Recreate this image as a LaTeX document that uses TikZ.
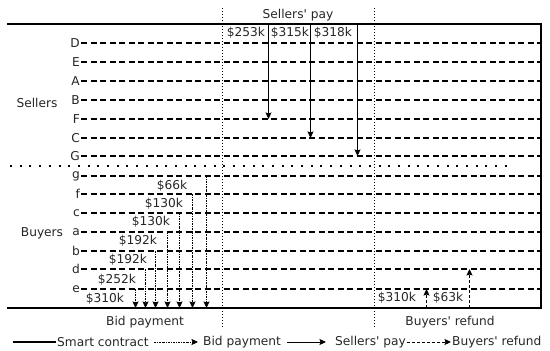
\documentclass[tikz,border=0pt]{standalone}
\usepackage{fontspec}
\setmainfont{DejaVu Sans}[Ligatures=TeXOff]
\usetikzlibrary{arrows.meta}
\begin{document}
\begin{tikzpicture}[x=1pt,y=-1pt,
  every node/.style={font=\fontsize{12.2}{14}\selectfont, text=black!85, inner sep=1pt},
  frame/.style={line width=2pt},
  rowlab/.style={anchor=east, inner sep=1pt},
  rowline/.style={line width=2pt, dash pattern=on 6pt off 3.5pt},
  vsep/.style={line width=1pt, dash pattern=on 1pt off 2pt},
  hsep/.style={draw=black, line width=2pt, dash pattern=on 2pt off 7.7pt},
  tip/.style={-{Stealth[length=6.5pt,width=6pt,inset=1pt]}},
  sellarrow/.style={tip, line width=1pt},
  bidarrow/.style={tip, line width=0.8pt, dash pattern=on 2pt off 1pt on 0.8pt off 1pt},
  refarrow/.style={tip, line width=1pt, dash pattern=on 3pt off 2pt},
  amt/.style={inner sep=0.5pt}]
\useasboundingbox (0,0) rectangle (550,351);

% frame
\coordinate (tl) at (7,24);
\coordinate (tr) at (541,24);
\coordinate (br) at (541,308);
\coordinate (bl) at (7,308);
\draw[frame] (tl) -- (tr) -- (br) -- (bl);

% dotted separators
\coordinate (v1t) at (222.5,8);  \coordinate (v1b) at (222.5,327);
\coordinate (v2t) at (374.5,8);  \coordinate (v2b) at (374.5,327);
\draw[vsep] (v1t) -- (v1b);
\draw[vsep] (v2t) -- (v2b);

% group labels
\node (sellers) at (37,103) {Sellers};
\node (buyers) at (42,233) {Buyers};

% seller rows
\node[rowlab] (rD) at (81,43) {D};
\node[rowlab] (rE) at (81,62) {E};
\node[rowlab] (rA) at (81,81) {A};
\node[rowlab] (rB) at (81,100) {B};
\node[rowlab] (rF) at (81,119) {F};
\node[rowlab] (rC) at (81,138) {C};
\node[rowlab] (rG) at (81,156) {G};
% buyer rows
\node[rowlab] (rg) at (81,176) {g};
\node[rowlab] (rf) at (81,194) {f};
\node[rowlab] (rc) at (81,213) {c};
\node[rowlab] (ra) at (81,232) {a};
\node[rowlab] (rb) at (81,251) {b};
\node[rowlab] (rd) at (81,269) {d};
\node[rowlab] (re) at (81,289) {e};

\foreach \r in {rD,rE,rA,rB,rF,rC,rG,rg,rf,rc,ra,rb,rd,re}
  \draw[rowline] (\r.east) -- (\r.east -| tr);

% sellers' pay
\node (spay) at (298,15) {Sellers' pay};
\coordinate (s1) at (268.5,24);
\coordinate (s2) at (310.5,24);
\coordinate (s3) at (357.5,24);
\draw[sellarrow] (s1) -- (s1 |- rF);
\draw[sellarrow] (s2) -- (s2 |- rC);
\draw[sellarrow] (s3) -- (s3 |- rG);
\node[amt] (p1) at (246,33) {\$253k};
\node[amt] (p2) at (290,33) {\$315k};
\node[amt] (p3) at (333,33) {\$318k};

% bid payments
\coordinate (b1) at (135.5,308);
\coordinate (b2) at (145.5,308);
\coordinate (b3) at (155.5,308);
\coordinate (b4) at (167.5,308);
\coordinate (b5) at (179.5,308);
\coordinate (b6) at (192.5,308);
\coordinate (b7) at (206.5,308);
\draw[bidarrow] (b1 |- re) -- (b1);
\draw[bidarrow] (b2 |- rd) -- (b2);
\draw[bidarrow] (b3 |- rb) -- (b3);
\draw[bidarrow] (b4 |- ra) -- (b4);
\draw[bidarrow] (b5 |- rc) -- (b5);
\draw[bidarrow] (b6 |- rf) -- (b6);
\draw[bidarrow] (b7 |- rg) -- (b7);
\node[amt] (q1) at (105,299) {\$310k};
\node[amt] (q2) at (117,280) {\$252k};
\node[amt] (q3) at (128,260) {\$192k};
\node[amt] (q4) at (138,241) {\$192k};
\node[amt] (q5) at (151,222) {\$130k};
\node[amt] (q6) at (164,204) {\$130k};
\node[amt] (q7) at (172,186) {\$66k};

% buyers' refund
\coordinate (u1) at (426.5,308);
\coordinate (u2) at (469.5,308);
\draw[refarrow] (u1) -- (u1 |- re);
\draw[refarrow] (u2) -- (u2 |- rd);
\node[amt] (w1) at (397,298) {\$310k};
\node[amt] (w2) at (448,298) {\$63k};

% bottom captions
\node (bidcap) at (145,322) {Bid payment};
\node (refcap) at (450,322) {Buyers' refund};

% legend
\coordinate (l0) at (13,342);
\node[anchor=west] (l1) at (56,342) {Smart contract};
\node[anchor=west] (l2) at (202,342) {Bid payment};
\node[anchor=west] (l3) at (334,342) {Sellers' pay};
\node[anchor=west] (l4) at (451,342) {Buyers' refund};
\draw[frame] (l0) -- (l1.west);
\draw[bidarrow] ([xshift=4pt]l1.east) -- ([xshift=-4pt]l2.west);
\draw[sellarrow] ([xshift=5pt]l2.east) -- ([xshift=-8pt]l3.west);
\draw[refarrow] (l3.east) -- (l4.west);

% sellers / buyers separator (drawn last)
\coordinate (h1) at (10,166);
\coordinate (h2) at (507,166);
\draw[hsep] (h1) -- (h2);
\end{tikzpicture}
\end{document}
